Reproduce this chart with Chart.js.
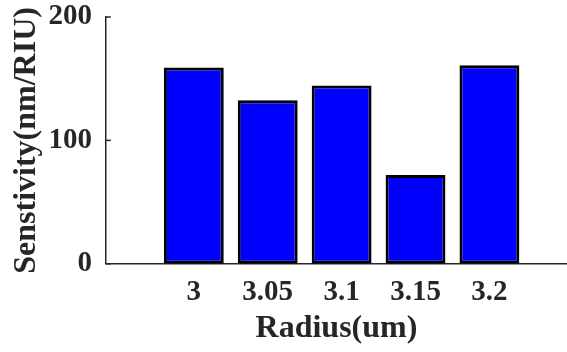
<!DOCTYPE html>
<html>
<head>
<meta charset="utf-8">
<script src="https://cdn.jsdelivr.net/npm/chart.js@4/dist/chart.umd.min.js"></script>
<style>
  html, body { margin: 0; padding: 0; background: #fff; }
  #wrap { width: 567px; height: 352px; }
</style>
</head>
<body>
<div id="wrap"><canvas id="radiusChart"></canvas></div>
<script>
const radiusLabels = ["3", "3.05", "3.1", "3.15", "3.2"];
const barPositions = [1, 2, 3, 4, 5];
const sensitivity = [159, 132.5, 144.5, 72, 161];
const yTicks = [0, 100, 200];

const axisColor = "#262626";
const serif = "'Liberation Serif', 'Times New Roman', serif";
const xTickPad = 11;
const yTickPad = 14;

// matlab style tick marks pointing into the plot
const innerTicks = {
    id: "innerTicks",
    afterDraw(chart) {
        const ctx = chart.ctx;
        const y = chart.scales.y;
        const left = chart.chartArea.left;
        ctx.save();
        ctx.strokeStyle = axisColor;
        ctx.lineWidth = 1.5;
        yTicks.forEach(function(v) {
            const py = y.getPixelForValue(v);
            ctx.beginPath();
            ctx.moveTo(left, py);
            ctx.lineTo(left + 5, py);
            ctx.stroke();
        });
        ctx.restore();
    }
};

const ctx = document.getElementById("radiusChart").getContext("2d");
new Chart(ctx, {
    type: "bar",
    data: {
        datasets: [{
            data: barPositions.map((x, i) => ({ x: x, y: sensitivity[i] })),
            backgroundColor: "#0000ff",
            borderColor: "#000000",
            borderWidth: 3,
            borderSkipped: false,
            barPercentage: 0.81,
            categoryPercentage: 1
        }]
    },
    options: {
        responsive: true,
        maintainAspectRatio: false,
        animation: false,
        layout: { padding: { top: 0, right: 0, left: 8, bottom: 4 } },
        plugins: { legend: { display: false }, tooltip: { enabled: false } },
        scales: {
            x: {
                type: "linear",
                offset: false,
                min: -0.19,
                max: 6.05,
                grid: { display: false, drawTicks: false, offset: false },
                border: { display: true, color: axisColor, width: 1.5 },
                afterFit: function(axis) {
                    // chart.js counts tick padding twice and also pads the sides
                    axis.paddingLeft = 0;
                    axis.paddingRight = 0;
                    axis.height -= xTickPad;
                },
                ticks: {
                    stepSize: 1,
                    autoSkip: false,
                    maxRotation: 0,
                    padding: xTickPad,
                    color: axisColor,
                    font: { family: serif, size: 29, weight: "bold" },
                    callback: function(v) {
                        const i = barPositions.indexOf(v);
                        return i >= 0 ? radiusLabels[i] : "";
                    }
                },
                title: {
                    display: true,
                    text: "Radius(um)",
                    color: axisColor,
                    padding: { top: 0, bottom: 0 },
                    font: { family: serif, size: 32, weight: "bold" }
                }
            },
            y: {
                min: 0,
                max: 200,
                grid: { display: false, drawTicks: false },
                border: { display: true, color: axisColor, width: 1.5 },
                afterBuildTicks: function(axis) {
                    axis.ticks = yTicks.map(v => ({ value: v }));
                },
                afterFit: function(axis) {
                    axis.paddingTop = 17;
                    axis.paddingBottom = 0;
                    axis.width -= yTickPad;
                },
                ticks: {
                    padding: yTickPad,
                    color: axisColor,
                    font: { family: serif, size: 29, weight: "bold" }
                },
                title: {
                    display: true,
                    text: "Senstivity(nm/RIU)",
                    color: axisColor,
                    padding: { top: 0, bottom: 2 },
                    font: { family: serif, size: 32, weight: "bold" }
                }
            }
        }
    },
    plugins: [innerTicks]
});
</script>
</body>
</html>
